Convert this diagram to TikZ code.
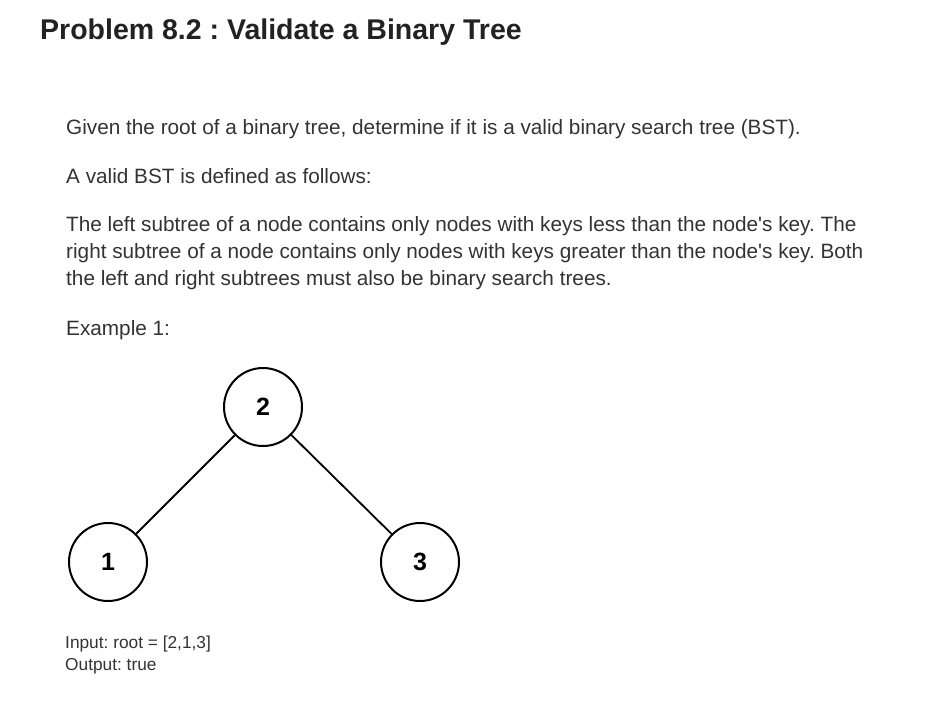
\documentclass[tikz,border=0pt]{standalone}
\usepackage{fontspec}
\setmainfont{Liberation Sans}
\frenchspacing
\definecolor{titlecol}{HTML}{222222}
\definecolor{bodycol}{HTML}{333333}
\begin{document}
\begin{tikzpicture}[x=1pt,y=-1pt,
  body/.style={anchor=base west,inner sep=0pt,text=bodycol,font=\fontsize{20.75}{24}\selectfont},
  small/.style={anchor=base west,inner sep=0pt,text=bodycol,font=\fontsize{17.3}{20}\selectfont},
  treenode/.style={circle,draw=black,line width=2pt,minimum size=78pt,inner sep=0pt,font=\bfseries\fontsize{25}{29}\selectfont},
  edge/.style={draw=black,line width=1.8pt}]
\useasboundingbox[fill=white] (0,0) rectangle (941,701);
\node[anchor=base west,inner sep=0pt,text=titlecol,font=\bfseries\fontsize{28.5}{34}\selectfont] (title) at (40,40) {Problem 8.2 : Validate a Binary Tree};
\node[body] (l1) at (66,134) {Given the root of a binary tree, determine if it is a valid binary search tree (BST).};
\node[body] (l2) at (66,183) {A valid BST is defined as follows:};
\node[body] (l3) at (66,231) {The left subtree of a node contains only nodes with keys less than the node\textquotesingle s key. The};
\node[body] (l4) at (66,258) {right subtree of a node contains only nodes with keys greater than the node\textquotesingle s key. Both};
\node[body] (l5) at (66,285) {the left and right subtrees must also be binary search trees.};
\node[body] (ex) at (66,335) {Example 1:};
\node[treenode] (n2) at (263,407) {2};
\node[treenode] (n1) at (108,562) {1};
\node[treenode] (n3) at (420,562) {3};
\path[edge] (n2) -- (n1);
\path[edge] (n2) -- (n3);
\node[small] (inp) at (65,648) {Input: root = [2,1,3]};
\node[small] (outp) at (65,670) {Output: true};
\end{tikzpicture}
\end{document}
